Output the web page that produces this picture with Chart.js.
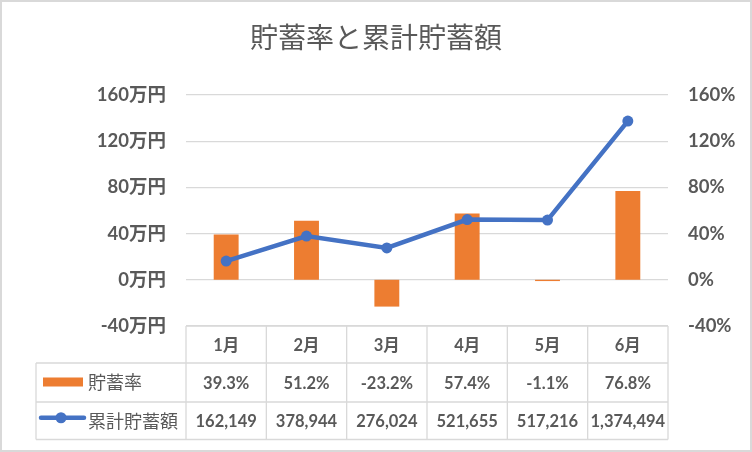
<!DOCTYPE html>
<html>
<head>
<meta charset="utf-8">
<script src="https://cdn.jsdelivr.net/npm/chart.js@4/dist/chart.umd.min.js"></script>
<style>
  html, body { margin: 0; padding: 0; background: #fff; }
  canvas { display: block; }
</style>
</head>
<body>
<canvas id="c" width="752" height="452"></canvas>
<script>
// ---- data ----
const months = ['1月', '2月', '3月', '4月', '5月', '6月'];
const savingRate = [39.3, 51.2, -23.2, 57.4, -1.1, 76.8];          // %
const cumulativeYen = [162149, 378944, 276024, 521655, 517216, 1374494]; // 円
const leftTicks = [-40, 0, 40, 80, 120, 160];   // 万円
const rightTicks = [-40, 0, 40, 80, 120, 160];  // %
const titleText = '貯蓄率と累計貯蓄額';
const rateLabel = '貯蓄率';
const cumLabel = '累計貯蓄額';

const cumulativeMan = cumulativeYen.map(v => v / 10000);

const GRAY = '#595959';
const GRID = '#d9d9d9';
const ORANGE = '#ED7D31';
const BLUE = '#4472C4';
const FONT = "Lato, 'Noto Sans CJK JP', sans-serif";

const tablePlugin = {
  id: 'dataTable',
  beforeDraw(chart) {
    const ctx = chart.ctx;
    ctx.save();
    ctx.fillStyle = '#fff';
    ctx.fillRect(0, 0, chart.width, chart.height);
    ctx.restore();
  },
  afterDraw(chart) {
    const ctx = chart.ctx;
    const x = chart.scales.x;
    const area = chart.chartArea;
    const n = months.length;
    const colW = (area.right - area.left) / n;
    const rowH = [37, 39, 37.5];
    const y0 = area.bottom;
    const y1 = y0 + rowH[0];
    const y2 = y1 + rowH[1];
    const y3 = y2 + rowH[2];
    const tableLeft = 36;

    ctx.save();
    ctx.strokeStyle = GRID;
    ctx.lineWidth = 1.3;
    ctx.beginPath();
    ctx.moveTo(area.left, y0); ctx.lineTo(area.right, y0);
    ctx.moveTo(tableLeft, y1); ctx.lineTo(area.right, y1);
    ctx.moveTo(tableLeft, y2); ctx.lineTo(area.right, y2);
    ctx.moveTo(tableLeft, y3); ctx.lineTo(area.right, y3);
    ctx.moveTo(tableLeft, y1); ctx.lineTo(tableLeft, y3);
    for (let i = 0; i <= n; i++) {
      const cx = (i < n ? x.getPixelForValue(i) - colW / 2 : x.getPixelForValue(n - 1) + colW / 2);
      ctx.moveTo(cx, y0); ctx.lineTo(cx, y3);
    }
    ctx.stroke();

    ctx.fillStyle = GRAY;
    ctx.textAlign = 'center';
    ctx.textBaseline = 'middle';
    ctx.font = 'bold 16.5px ' + FONT;
    for (let i = 0; i < n; i++) {
      const cx = x.getPixelForValue(i);
      ctx.fillText(months[i], cx, (y0 + y1) / 2 + 1);
      ctx.fillText(savingRate[i].toFixed(1) + '%', cx, (y1 + y2) / 2 + 1);
      ctx.fillText(cumulativeYen[i].toLocaleString('en-US'), cx, (y2 + y3) / 2 + 1);
    }
    ctx.textAlign = 'left';
    ctx.font = "18px 'Noto Sans CJK JP', sans-serif";
    ctx.fillText(rateLabel, 88, (y1 + y2) / 2);
    ctx.fillText(cumLabel, 88, (y2 + y3) / 2);

    ctx.fillStyle = ORANGE;
    ctx.fillRect(43, (y1 + y2) / 2 - 5, 40, 9);
    ctx.strokeStyle = BLUE;
    ctx.lineWidth = 4.5;
    ctx.lineCap = 'round';
    const ly = (y2 + y3) / 2 - 3;
    ctx.beginPath();
    ctx.moveTo(41, ly); ctx.lineTo(84, ly);
    ctx.stroke();
    ctx.fillStyle = BLUE;
    ctx.beginPath();
    ctx.arc(61, ly, 5.5, 0, Math.PI * 2);
    ctx.fill();

    ctx.strokeStyle = GRID;
    ctx.lineWidth = 2;
    ctx.strokeRect(1, 1, chart.width - 2, chart.height - 2);
    ctx.restore();
  }
};

new Chart(document.getElementById('c'), {
  data: {
    labels: months,
    datasets: [
      {
        type: 'line',
        label: cumLabel,
        data: cumulativeMan,
        yAxisID: 'y',
        borderColor: BLUE,
        backgroundColor: BLUE,
        borderWidth: 4.5,
        pointRadius: 5.5,
        pointBorderWidth: 0,
        pointBackgroundColor: BLUE,
        tension: 0,
        order: 0
      },
      {
        type: 'bar',
        label: rateLabel,
        data: savingRate,
        yAxisID: 'y1',
        backgroundColor: ORANGE,
        borderWidth: 0,
        barPercentage: 0.31,
        categoryPercentage: 1.0,
        order: 1
      }
    ]
  },
  options: {
    responsive: false,
    animation: false,
    layout: { padding: { left: 0, right: 0, top: 0, bottom: 126 } },
    plugins: {
      legend: { display: false },
      tooltip: { enabled: false },
      title: {
        display: true,
        text: titleText,
        color: GRAY,
        font: { family: "'Noto Sans CJK JP', sans-serif", size: 28, weight: 'normal', lineHeight: 1.2 },
        padding: { top: 21, bottom: 40.4 }
      }
    },
    scales: {
      x: {
        display: false,
        offset: true
      },
      y: {
        position: 'left',
        min: -40,
        max: 160,
        afterBuildTicks: s => { s.ticks = leftTicks.map(v => ({ value: v })); },
        afterFit: s => { s.width = 186; },
        grid: { color: GRID, lineWidth: 1.3, drawTicks: false },
        border: { display: false },
        ticks: {
          padding: 20,
          color: GRAY,
          font: { family: FONT, size: 18.5, weight: 'bold' },
          callback: v => v + '万円'
        }
      },
      y1: {
        position: 'right',
        min: -40,
        max: 160,
        afterBuildTicks: s => { s.ticks = rightTicks.map(v => ({ value: v })); },
        afterFit: s => { s.width = 84; },
        grid: { display: false, drawTicks: false },
        border: { display: false },
        ticks: {
          padding: 20,
          color: GRAY,
          font: { family: FONT, size: 18.5, weight: 'bold' },
          callback: v => v + '%'
        }
      }
    }
  },
  plugins: [tablePlugin]
});
</script>
</body>
</html>
